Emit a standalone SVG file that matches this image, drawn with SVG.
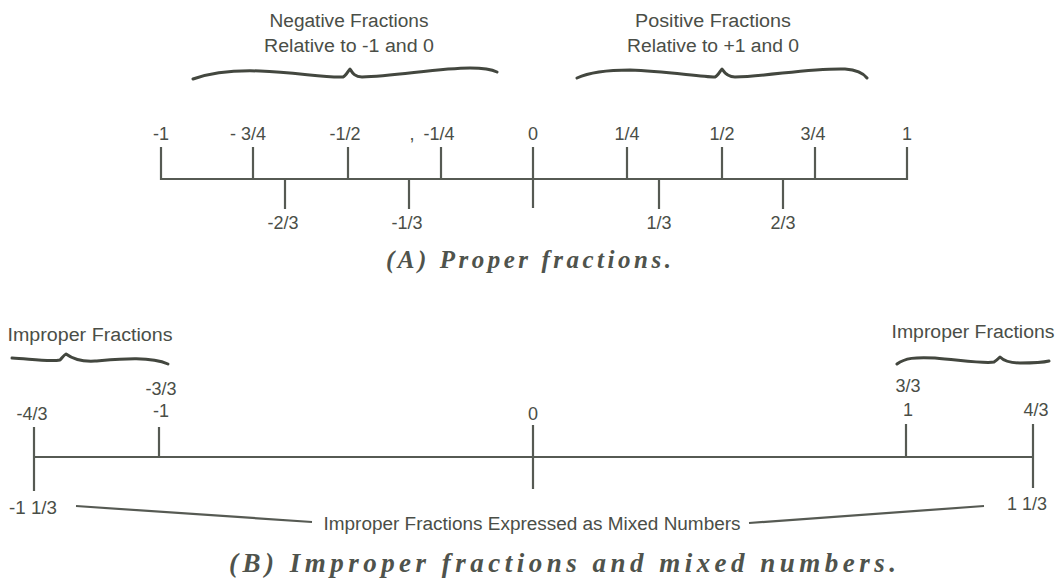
<svg xmlns="http://www.w3.org/2000/svg" width="1064" height="585" viewBox="0 0 1064 585">
<style>
.ln{stroke:#565a53;stroke-width:2.2;fill:none;stroke-linecap:butt}
.br{stroke:#43473f;stroke-width:3;fill:none;stroke-linecap:round;stroke-linejoin:round}
.t{font-family:"Liberation Sans",Arial,sans-serif;font-size:18px;fill:#4a4e47;text-anchor:middle}
.n{font-family:"Liberation Sans",Arial,sans-serif;font-size:18px;fill:#4a4e47;text-anchor:middle}
.cap{font-family:"Liberation Serif","Times New Roman",serif;font-style:italic;font-weight:bold;fill:#4f534c}
</style>
<rect width="1064" height="585" fill="#ffffff"/>

<g id="header-negative">
<text class="t" x="349" y="27" textLength="159" lengthAdjust="spacingAndGlyphs">Negative Fractions</text>
<text class="t" x="349" y="52" textLength="170" lengthAdjust="spacingAndGlyphs">Relative to -1 and 0</text>
<path class="br" d="M193,79 C210,73 230,70 260,71 C295,72 325,78 343,77 C346,76 348,71 350,69 C352,72 354,77 362,77 C395,76 440,68 470,68 C486,68 493,70 497,72"/>
</g>
<g id="header-positive">
<text class="t" x="713" y="27" textLength="156" lengthAdjust="spacingAndGlyphs">Positive Fractions</text>
<text class="t" x="713" y="52" textLength="172" lengthAdjust="spacingAndGlyphs">Relative to +1 and 0</text>
<path class="br" d="M577,78 C590,72 605,70 630,70 C665,71 700,77 715,77 C718,76 720,71 722,69 C724,72 727,77 735,77 C770,76 810,68 845,69 C858,70 864,74 867,78"/>
</g>

<g id="connectors">
<!-- Part A axis -->
<line class="ln" x1="161" y1="179" x2="907" y2="179"/>
<line class="ln" x1="161" y1="147" x2="161" y2="180"/>
<line class="ln" x1="253" y1="147" x2="253" y2="180"/>
<line class="ln" x1="348" y1="147" x2="348" y2="180"/>
<line class="ln" x1="441" y1="147" x2="441" y2="180"/>
<line class="ln" x1="533" y1="147" x2="533" y2="208"/>
<line class="ln" x1="627" y1="147" x2="627" y2="180"/>
<line class="ln" x1="722" y1="147" x2="722" y2="180"/>
<line class="ln" x1="815" y1="147" x2="815" y2="180"/>
<line class="ln" x1="907" y1="147" x2="907" y2="180"/>
<line class="ln" x1="285" y1="178" x2="285" y2="209"/>
<line class="ln" x1="409" y1="178" x2="409" y2="209"/>
<line class="ln" x1="659" y1="178" x2="659" y2="209"/>
<line class="ln" x1="783" y1="178" x2="783" y2="209"/>
<!-- Part B axis -->
<line class="ln" x1="34" y1="457" x2="1033" y2="457"/>
<line class="ln" x1="34" y1="427" x2="34" y2="491"/>
<line class="ln" x1="159" y1="427" x2="159" y2="458"/>
<line class="ln" x1="533" y1="425" x2="533" y2="489"/>
<line class="ln" x1="906" y1="424" x2="906" y2="458"/>
<line class="ln" x1="1033" y1="424" x2="1033" y2="488"/>
<!-- mixed-number leaders -->
<line class="ln" x1="76" y1="506" x2="312" y2="522"/>
<line class="ln" x1="749" y1="523" x2="984" y2="506"/>
</g>

<g id="labels-A">
<text class="n" x="161" y="140">-1</text>
<text class="n" x="248" y="140">- 3/4</text>
<text class="n" x="345" y="140">-1/2</text>
<text class="n" x="412" y="140">,</text>
<text class="n" x="439" y="140">-1/4</text>
<text class="n" x="533" y="140">0</text>
<text class="n" x="627" y="140">1/4</text>
<text class="n" x="722" y="140">1/2</text>
<text class="n" x="813" y="140">3/4</text>
<text class="n" x="907" y="140">1</text>
<text class="n" x="283" y="229">-2/3</text>
<text class="n" x="407" y="229">-1/3</text>
<text class="n" x="659" y="229">1/3</text>
<text class="n" x="783" y="229">2/3</text>
</g>
<g id="caption-A">
<text class="cap" x="386" y="268" font-size="25" textLength="285" lengthAdjust="spacing">(A) Proper fractions.</text>
</g>

<g id="header-improper-left">
<text class="t" x="90" y="341" textLength="165" lengthAdjust="spacingAndGlyphs">Improper Fractions</text>
<path class="br" d="M12,358 C30,359 50,362 60,360 C62,358 64,355 66,354 C70,357 78,362 95,361 C120,359 150,356 168,364"/>
</g>
<g id="header-improper-right">
<text class="t" x="973" y="338" textLength="163" lengthAdjust="spacingAndGlyphs">Improper Fractions</text>
<path class="br" d="M897,364 C905,358 915,357 935,358 C960,360 985,364 994,362 C997,360 999,358 1000,357 C1003,360 1008,363 1020,363 C1035,363 1045,362 1049,361"/>
</g>

<g id="labels-B">
<text class="n" x="32" y="420">-4/3</text>
<text class="n" x="161" y="395">-3/3</text>
<text class="n" x="161" y="417">-1</text>
<text class="n" x="533" y="420">0</text>
<text class="n" x="908" y="392">3/3</text>
<text class="n" x="908" y="416">1</text>
<text class="n" x="1036" y="416">4/3</text>
<text class="n" x="33" y="514" textLength="48" lengthAdjust="spacingAndGlyphs">-1 1/3</text>
<text class="n" x="1027" y="510" textLength="40" lengthAdjust="spacingAndGlyphs">1 1/3</text>
<text class="t" x="532" y="530" textLength="417" lengthAdjust="spacingAndGlyphs">Improper Fractions Expressed as Mixed Numbers</text>
</g>
<g id="caption-B">
<text class="cap" x="229" y="572" font-size="27" textLength="667" lengthAdjust="spacing">(B) Improper fractions and mixed numbers.</text>
</g>
</svg>
